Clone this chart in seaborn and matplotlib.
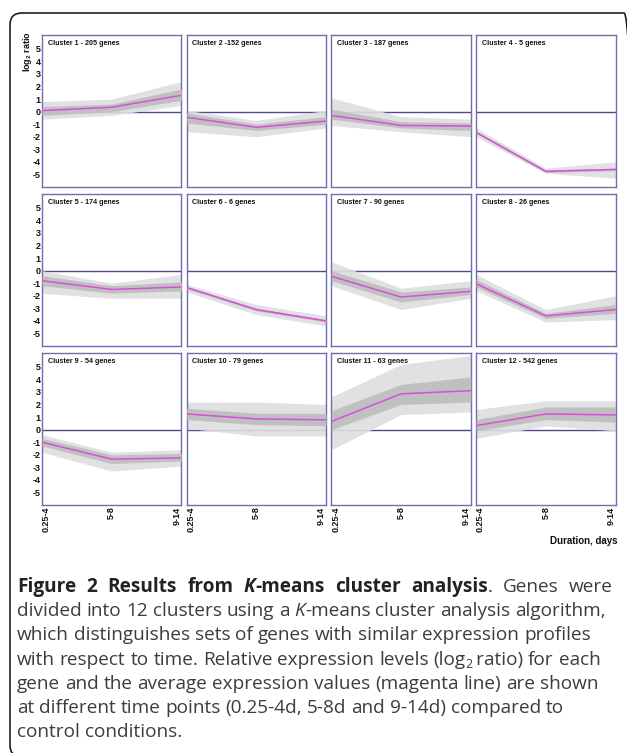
import matplotlib
matplotlib.use("Agg")
import matplotlib.pyplot as plt
from matplotlib.patches import FancyBboxPatch
from matplotlib.font_manager import FontProperties
import numpy as np
import seaborn as sns

# ---- data ----
time_points = ["0.25-4", "5-8", "9-14"]

cluster_titles = [
    "Cluster 1 - 205 genes", "Cluster 2 -152 genes", "Cluster 3 - 187 genes", "Cluster 4 - 5 genes",
    "Cluster 5 - 174 genes", "Cluster 6 - 6 genes", "Cluster 7 - 90 genes", "Cluster 8 - 26 genes",
    "Cluster 9 - 54 genes", "Cluster 10 - 79 genes", "Cluster 11 - 63 genes", "Cluster 12 - 542 genes",
]

# average log2 ratio (magenta line)
mean_profiles = [
    [0.08, 0.35, 1.30], [-0.45, -1.25, -0.75], [-0.30, -1.10, -1.15], [-1.65, -4.75, -4.60],
    [-0.80, -1.50, -1.30], [-1.35, -3.10, -4.00], [-0.45, -2.10, -1.65], [-1.05, -3.60, -3.10],
    [-1.00, -2.35, -2.25], [1.25, 0.85, 0.78], [0.65, 2.85, 3.10], [0.32, 1.25, 1.17],
]

# outer spread of the individual gene lines
spread_low = [
    [-0.6, -0.3, 0.5], [-1.6, -2.0, -1.3], [-1.1, -1.6, -2.0], [-2.0, -4.9, -5.3],
    [-1.8, -2.2, -2.2], [-1.7, -3.5, -4.4], [-1.2, -3.1, -2.2], [-1.6, -4.1, -3.9],
    [-1.8, -3.3, -2.9], [0.1, -0.5, -0.5], [-1.6, 1.2, 1.4], [-0.7, 0.3, -0.1],
]
spread_high = [
    [0.8, 1.0, 2.4], [0.1, -0.7, 0.1], [1.1, -0.4, -0.6], [-1.3, -4.5, -4.0],
    [0.0, -1.0, -0.3], [-1.1, -2.7, -3.6], [0.7, -1.4, -0.8], [-0.3, -3.1, -2.0],
    [-0.4, -1.8, -1.6], [2.2, 2.2, 2.0], [2.6, 5.2, 5.9], [1.6, 2.3, 2.3],
]

# dense core of the gene lines
core_low = [
    [-0.3, 0.0, 0.9], [-0.9, -1.5, -1.0], [-0.6, -1.3, -1.5], [-1.75, -4.85, -4.7],
    [-1.2, -1.8, -1.6], [-1.45, -3.2, -4.1], [-0.8, -2.5, -1.9], [-1.3, -3.8, -3.4],
    [-1.3, -2.7, -2.5], [0.8, 0.4, 0.3], [0.0, 2.0, 2.2], [-0.1, 0.8, 0.6],
]
core_high = [
    [0.4, 0.6, 1.8], [-0.1, -1.0, -0.4], [0.2, -0.8, -0.9], [-1.55, -4.65, -4.5],
    [-0.4, -1.2, -0.9], [-1.25, -3.0, -3.9], [0.0, -1.7, -1.3], [-0.7, -3.4, -2.7],
    [-0.7, -2.0, -1.9], [1.7, 1.3, 1.3], [1.5, 3.6, 4.2], [0.8, 1.8, 1.8],
]

y_ticks = [5, 4, 3, 2, 1, 0, -1, -2, -3, -4, -5]

W, H = 627, 753

sns.set_theme(style="white")
plt.rcParams["font.family"] = ["Liberation Sans", "DejaVu Sans"]
plt.rcParams["axes.unicode_minus"] = False
plt.rcParams["mathtext.default"] = "regular"

frame_col = "#6e6eb0"
zero_col = "#4b4b8e"
magenta = "#d84fd8"

fig, axes = plt.subplots(3, 4, figsize=(W / 100, H / 100), dpi=100, sharex=True, sharey=True)
fig.subplots_adjust(left=42 / W, right=615.5 / W, top=1 - 35 / H, bottom=1 - 505 / H,
                    wspace=0.038, hspace=0.046)

xs = np.arange(len(time_points))
for i, ax in enumerate(axes.flat):
    ax.axhline(0, color=zero_col, lw=1.0, zorder=1)
    ax.fill_between(xs, spread_low[i], spread_high[i], color="#dedede", alpha=0.9, lw=0, zorder=2)
    ax.fill_between(xs, core_low[i], core_high[i], color="#bdbdbd", alpha=0.9, lw=0, zorder=3)
    sns.lineplot(x=xs, y=mean_profiles[i], color=magenta, lw=1.1, ax=ax, zorder=4)
    ax.set_xlim(0, 2)
    ax.set_ylim(-6, 6.1)
    ax.set_yticks(y_ticks)
    ax.set_xticks(xs)
    for sp in ax.spines.values():
        sp.set_color(frame_col)
        sp.set_linewidth(1.0)
    ax.tick_params(direction="in", length=3, width=0.8, color=frame_col, pad=1,
                   labelsize=6.5, labelcolor="#111111")
    ax.text(0.04, 0.965, cluster_titles[i], transform=ax.transAxes, fontsize=5.1,
            fontweight="bold", va="top", ha="left", color="#111111")

for ax in axes[:, 0]:
    ax.set_yticklabels([str(v) for v in y_ticks], fontweight="bold")
for ax in axes[-1, :]:
    labels = ax.set_xticklabels(time_points, rotation=90, fontweight="bold", va="top")
    labels[0].set_ha("left")
    labels[1].set_ha("center")
    labels[2].set_ha("right")

fig.text(27 / W, 1 - 51 / H, "log$_2$ ratio", rotation=90, ha="center", va="center",
         fontsize=6.5, fontweight="bold", color="#111111")
fig.text(617 / W, 1 - 541 / H, "Duration, days", ha="right", va="center",
         fontsize=7, fontweight="bold", color="#111111")

# outer frame of the figure panel
frame = FancyBboxPatch((0.10, -0.04), 6.26, 7.44, boxstyle="round,pad=0,rounding_size=0.12",
                       transform=fig.dpi_scale_trans, fill=False, ec="#1e1e1e", lw=1.2)
fig.add_artist(frame)

# ---- caption ----
cap_size = 13.7
renderer = fig.canvas.get_renderer()


def run_width(txt, prop):
    w1, _, _ = renderer.get_text_width_height_descent(txt + "x", prop, ismath=False)
    w2, _, _ = renderer.get_text_width_height_descent("x", prop, ismath=False)
    return w1 - w2


def write_line(y_px, runs, x_px=17, justify_to=None):
    props = [FontProperties(family="Open Sans", weight=r[1], style=r[2], size=r[3]) for r in runs]
    natural, n_spaces = 0.0, 0
    for r, p in zip(runs, props):
        parts = r[0].split(" ")
        natural += sum(run_width(s, p) for s in parts) + (len(parts) - 1) * run_width(" ", p)
        n_spaces += len(parts) - 1
    gap = 0.0
    if justify_to is not None and n_spaces:
        gap = (justify_to - x_px - natural) / n_spaces
    x = x_px
    for (txt, weight, style, size, dy, col), prop in zip(runs, props):
        for j, part in enumerate(txt.split(" ")):
            if j > 0:
                x += run_width(" ", prop) + gap
            if part:
                fig.text(x / W, 1 - (y_px + dy) / H, part, fontproperties=prop, ha="left",
                         va="baseline", color=col)
                x += run_width(part, prop)


B, R = "#222222", "#3c3c3c"
caption = [
    [("Figure 2 Results from ", "bold", "normal", cap_size, 0, B),
     ("K", "bold", "italic", cap_size, 0, B),
     ("-means cluster analysis", "bold", "normal", cap_size, 0, B),
     (". Genes were", "normal", "normal", cap_size, 0, R)],
    [("divided into 12 clusters using a ", "normal", "normal", cap_size, 0, R),
     ("K", "normal", "italic", cap_size, 0, R),
     ("-means cluster analysis algorithm,", "normal", "normal", cap_size, 0, R)],
    [("which distinguishes sets of genes with similar expression profiles", "normal", "normal", cap_size, 0, R)],
    [("with respect to time. Relative expression levels (log", "normal", "normal", cap_size, 0, R),
     ("2", "normal", "normal", cap_size * 0.65, 3, R),
     ("\u2009ratio) for each", "normal", "normal", cap_size, 0, R)],
    [("gene and the average expression values (magenta line) are shown", "normal", "normal", cap_size, 0, R)],
    [("at different time points (0.25-4d, 5-8d and 9-14d) compared to", "normal", "normal", cap_size, 0, R)],
    [("control conditions.", "normal", "normal", cap_size, 0, R)],
]
baselines = [592, 616, 640, 665, 689, 713, 737]
for k, (y_px, runs) in enumerate(zip(baselines, caption)):
    write_line(y_px, runs, justify_to=613 if k == 0 else None)

fig.savefig("out.png", dpi=100)
